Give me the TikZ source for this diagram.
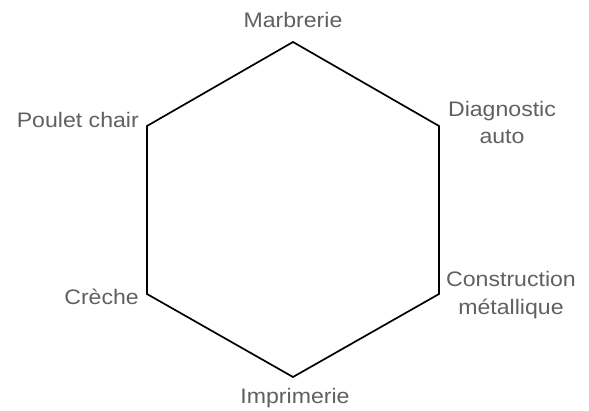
\documentclass[tikz,border=0pt]{standalone}
\usepackage{fontspec}
\setmainfont{Liberation Sans}[FakeStretch=1.1]
\definecolor{labelgray}{RGB}{96,96,96}
\begin{document}
\begin{tikzpicture}[x=1pt,y=-1pt,
  lab/.style={text=labelgray,font=\fontsize{21}{27.5}\selectfont,inner sep=0pt,align=center},
  edge/.style={draw=black,line width=1.7pt,line join=miter}]
\useasboundingbox (0,0) rectangle (589,411);
\coordinate (v1) at (293,42);
\coordinate (v2) at (439,126);
\coordinate (v3) at (439,294);
\coordinate (v4) at (293,377);
\coordinate (v5) at (147,294);
\coordinate (v6) at (147,126);
\draw[edge] (v1) -- (v2) -- (v3) -- (v4) -- (v5) -- (v6) -- cycle;
\node[lab,anchor=base] (l1) at (293,27.5) {Marbrerie};
\node[lab,anchor=base] (l2) at (502,144) {Diagnostic\\auto};
\node[lab,anchor=base] (l3) at (511,314.5) {Construction\\métallique};
\node[lab,anchor=base] (l4) at (295,403) {Imprimerie};
\node[lab,anchor=base east] (l5) at (139,305) {Crèche};
\node[lab,anchor=base east] (l6) at (139,128) {Poulet chair};
\end{tikzpicture}
\end{document}
